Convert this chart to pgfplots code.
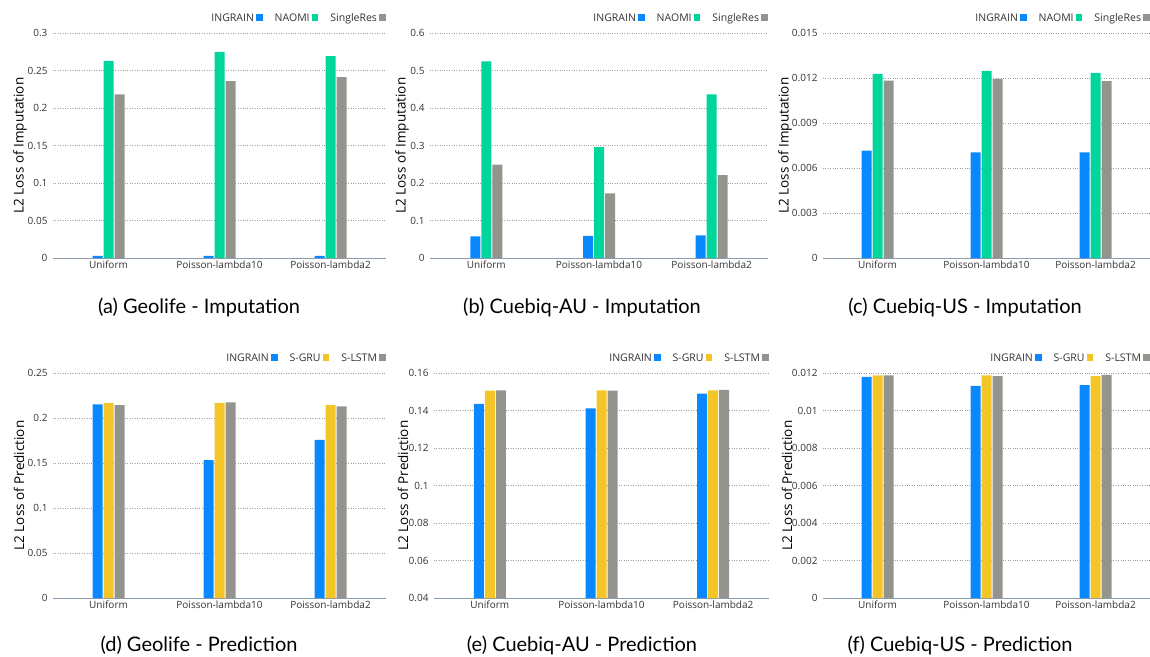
\documentclass[border=0pt]{standalone}
\usepackage{pgfplots}
\pgfplotsset{compat=1.18}
\usepackage{fontspec}
\setmainfont{Open Sans}
\newfontfamily\capfont{Lato}
\definecolor{cblue}{HTML}{0A88FF}
\definecolor{cgreen}{HTML}{00D69B}
\definecolor{cgrey}{HTML}{94948E}
\definecolor{cyellow}{HTML}{F4C529}
\definecolor{axisc}{HTML}{8C9AAE}
\definecolor{textc}{HTML}{333333}
\pgfplotsset{
 sq/.style={legend image code/.code={\fill[##1] (1.8pt,-2.8pt) rectangle (8.6pt,4pt);}},
 panel/.style={
  scale only axis, anchor=south west,
  xmin=-0.5, xmax=2.5, xtick={0,1,2},
  xticklabels={Uniform,Poisson-lambda10,Poisson-lambda2},
  ybar=1pt, bar width=10pt,
  axis x line*=bottom, axis y line*=left,
  y axis line style={draw=none},
  x axis line style={draw=axisc, line width=0.8pt, -},
  major tick length=0pt,
  scaled y ticks=false,
  ymajorgrids, grid style={dotted, gray!75, line width=0.5pt},
  tick label style={font=\fontsize{10}{12}\selectfont, text=textc},
  /pgf/number format/assume math mode=true,
  yticklabel style={anchor=east, xshift=-2pt},
  xticklabel style={yshift=1pt},
  ylabel style={font=\fontsize{13.5}{15}\selectfont, text=black, at={(axis description cs:0,0.5)}, anchor=center},
  legend plot pos=right,
  legend columns=3,
  legend style={draw=none, fill=none, at={(1,1)}, anchor=south east, yshift=8pt,
    font=\fontsize{10.5}{12}\selectfont, text=textc, inner sep=0pt},
 },
}
\begin{document}
\begin{tikzpicture}
\useasboundingbox (0,0) rectangle (1150pt,-656pt);
% (a)
\begin{axis}[panel, at={(53pt,-258pt)}, width=333pt, height=225pt,
  ymin=0, ymax=0.3, ytick={0,0.05,0.1,0.15,0.2,0.25,0.3},
  yticklabels={0,0.05,0.1,0.15,0.2,0.25,0.3},
  ylabel={L2 Loss of Imputation}, ylabel style={yshift=33pt}]
\addplot[fill=cblue, draw=none, sq] coordinates {(0,0.003) (1,0.003) (2,0.003)};
\addplot[fill=cgreen, draw=none, sq] coordinates {(0,0.2627) (1,0.2747) (2,0.2693)};
\addplot[fill=cgrey, draw=none, sq] coordinates {(0,0.2182) (1,0.2360) (2,0.2413)};
\legend{INGRAIN,\hspace{10pt}NAOMI,\hspace{10pt}SingleRes}
\end{axis}
% (b)
\begin{axis}[panel, at={(430pt,-258pt)}, width=338pt, height=225pt,
  ymin=0, ymax=0.6, ytick={0,0.1,0.2,0.3,0.4,0.5,0.6},
  yticklabels={0,0.1,0.2,0.3,0.4,0.5,0.6},
  ylabel={L2 Loss of Imputation}, ylabel style={yshift=28pt}]
\addplot[fill=cblue, draw=none, sq] coordinates {(0,0.0580) (1,0.0587) (2,0.0604)};
\addplot[fill=cgreen, draw=none, sq] coordinates {(0,0.5244) (1,0.2960) (2,0.4364)};
\addplot[fill=cgrey, draw=none, sq] coordinates {(0,0.2490) (1,0.1724) (2,0.2213)};
\legend{INGRAIN,\hspace{10pt}NAOMI,\hspace{10pt}SingleRes}
\end{axis}
% (c)
\begin{axis}[panel, at={(823pt,-258pt)}, width=327pt, height=225pt,
  ymin=0, ymax=0.015, ytick={0,0.003,0.006,0.009,0.012,0.015},
  yticklabels={0,0.003,0.006,0.009,0.012,0.015},
  ylabel={L2 Loss of Imputation}, ylabel style={yshift=38pt}]
\addplot[fill=cblue, draw=none, sq] coordinates {(0,0.00716) (1,0.00704) (2,0.00704)};
\addplot[fill=cgreen, draw=none, sq] coordinates {(0,0.01227) (1,0.01247) (2,0.01235)};
\addplot[fill=cgrey, draw=none, sq] coordinates {(0,0.01182) (1,0.01195) (2,0.01180)};
\legend{INGRAIN,\hspace{10pt}NAOMI,\hspace{10pt}SingleRes}
\end{axis}
% (d)
\begin{axis}[panel, at={(53pt,-598pt)}, width=333pt, height=225pt,
  ymin=0, ymax=0.25, ytick={0,0.05,0.1,0.15,0.2,0.25},
  yticklabels={0,0.05,0.1,0.15,0.2,0.25},
  ylabel={L2 Loss of Prediction}, ylabel style={yshift=34pt}]
\addplot[fill=cblue, draw=none, sq] coordinates {(0,0.2152) (1,0.1533) (2,0.1756)};
\addplot[fill=cyellow, draw=none, sq] coordinates {(0,0.2167) (1,0.2167) (2,0.2144)};
\addplot[fill=cgrey, draw=none, sq] coordinates {(0,0.2144) (1,0.2174) (2,0.2130)};
\legend{INGRAIN,\hspace{10pt}S-GRU,\hspace{10pt}S-LSTM}
\end{axis}
% (e)
\begin{axis}[panel, at={(434pt,-598pt)}, width=335pt, height=225pt,
  ymin=0.04, ymax=0.16, ytick={0.04,0.06,0.08,0.1,0.12,0.14,0.16},
  yticklabels={0.04,0.06,0.08,0.1,0.12,0.14,0.16},
  ylabel={L2 Loss of Prediction}, ylabel style={yshift=31pt}]
\addplot[fill=cblue, draw=none, sq] coordinates {(0,0.1436) (1,0.1411) (2,0.1490)};
\addplot[fill=cyellow, draw=none, sq] coordinates {(0,0.1506) (1,0.1508) (2,0.1508)};
\addplot[fill=cgrey, draw=none, sq] coordinates {(0,0.1508) (1,0.1506) (2,0.1510)};
\legend{INGRAIN,\hspace{10pt}S-GRU,\hspace{10pt}S-LSTM}
\end{axis}
% (f)
\begin{axis}[panel, at={(823pt,-598pt)}, width=327pt, height=225pt,
  ymin=0, ymax=0.012, ytick={0,0.002,0.004,0.006,0.008,0.01,0.012},
  yticklabels={0,0.002,0.004,0.006,0.008,0.01,0.012},
  ylabel={L2 Loss of Prediction}, ylabel style={yshift=36pt}]
\addplot[fill=cblue, draw=none, sq] coordinates {(0,0.01180) (1,0.01131) (2,0.01135)};
\addplot[fill=cyellow, draw=none, sq] coordinates {(0,0.01188) (1,0.01188) (2,0.01183)};
\addplot[fill=cgrey, draw=none, sq] coordinates {(0,0.01188) (1,0.01184) (2,0.01190)};
\legend{INGRAIN,\hspace{10pt}S-GRU,\hspace{10pt}S-LSTM}
\end{axis}
\begin{scope}[every node/.style={font=\capfont\fontsize{20}{23}\selectfont, text=black, anchor=center}]
\node at (199pt,-307pt) {(a) Geolife - Imputation};
\node at (582pt,-307pt) {(b) Cuebiq-AU - Imputation};
\node at (965pt,-307pt) {(c) Cuebiq-US - Imputation};
\node at (199pt,-645pt) {(d) Geolife - Prediction};
\node at (582pt,-645pt) {(e) Cuebiq-AU - Prediction};
\node at (960pt,-645pt) {(f) Cuebiq-US - Prediction};
\end{scope}
\end{tikzpicture}
\end{document}
